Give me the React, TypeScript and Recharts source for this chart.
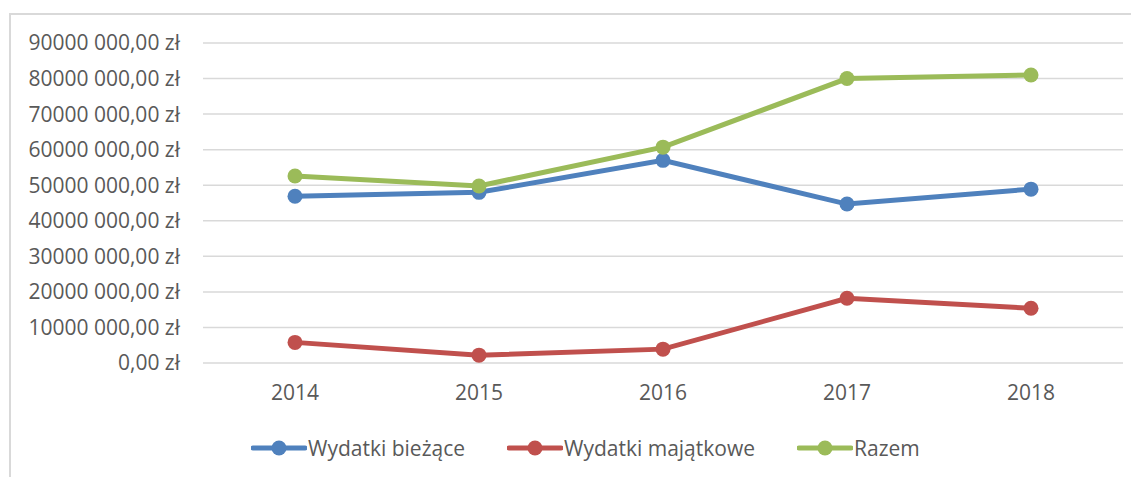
import React from "react";
import { LineChart, Line, XAxis, YAxis, CartesianGrid, Legend } from "recharts";

// Values in zł
const years = ["2014", "2015", "2016", "2017", "2018"];
const biezace = [46900000, 48000000, 57000000, 44700000, 48900000];
const majatkowe = [5800000, 2200000, 3900000, 18200000, 15400000];
const razem = [52600000, 49800000, 60700000, 80000000, 81000000];
const yTicks = [0, 10000000, 20000000, 30000000, 40000000, 50000000, 60000000, 70000000, 80000000, 90000000];

const seriesKeys = ["biezace", "majatkowe", "razem"];
const seriesNames = ["Wydatki bieżące", "Wydatki majątkowe", "Razem"];

const data = years.map((year, i) => ({
  year,
  biezace: biezace[i],
  majatkowe: majatkowe[i],
  razem: razem[i],
}));

// styling
const COLORS = ["#4F81BD", "#C0504D", "#9BBB59"];
const LEGEND_ITEM_W = [256, 290, 140];
const FONT = "'Open Sans', sans-serif";
const TEXT = "#595959";
const FS = 21;

const formatZl = (v: number) => {
  if (v === 0) return "0,00 zł";
  const th = Math.floor(v / 1000);
  const rest = String(v % 1000).padStart(3, "0");
  return `${th} ${rest},00 zł`;
};

function LegendContent() {
  return (
    <div style={{ display: "flex", alignItems: "center", height: 27, fontFamily: FONT, fontSize: FS, color: TEXT, whiteSpace: "nowrap" }}>
      {seriesNames.map((name, i) => (
        <div key={name} style={{ display: "flex", alignItems: "center", width: LEGEND_ITEM_W[i] }}>
          <svg width={56} height={18} style={{ marginRight: 1, flex: "none" }}>
            <line x1={2} y1={9} x2={54} y2={9} stroke={COLORS[i]} strokeWidth={5} strokeLinecap="round" />
            <circle cx={28} cy={9} r={7.5} fill={COLORS[i]} />
          </svg>
          <span>{name}</span>
        </div>
      ))}
    </div>
  );
}

export default function App() {
  return (
    <div style={{ position: "relative", width: 1131, height: 469, overflow: "hidden", background: "#fff" }}>
      <div
        style={{
          position: "absolute",
          left: 1,
          top: 5,
          width: 1200,
          height: 500,
          border: "2px solid #D9D9D9",
          boxSizing: "border-box",
        }}
      />
      <div style={{ position: "absolute", left: 0, top: 0 }}>
        <LineChart width={1131} height={469} data={data} margin={{ top: 35, right: 16, left: 0, bottom: 27 }}>
          <CartesianGrid horizontal vertical={false} stroke="#D9D9D9" strokeWidth={1.5} />
          <XAxis
            dataKey="year"
            padding={{ left: 92, right: 92 }}
            axisLine={false}
            tickLine={false}
            tickSize={0}
            tickMargin={22}
            height={60}
            tick={{ fill: TEXT, fontSize: FS, fontFamily: FONT }}
          />
          <YAxis
            domain={[0, 90000000]}
            ticks={yTicks}
            interval={0}
            width={195}
            axisLine={false}
            tickLine={false}
            tickSize={0}
            tickMargin={23}
            tickFormatter={formatZl}
            tick={{ fill: TEXT, fontSize: FS, fontFamily: FONT }}
          />
          <Legend
            verticalAlign="bottom"
            content={<LegendContent />}
            wrapperStyle={{ left: 243, bottom: 16, width: 720, height: 27 }}
          />
          {seriesKeys.map((key, i) => (
            <Line
              key={key}
              dataKey={key}
              name={seriesNames[i]}
              type="linear"
              stroke={COLORS[i]}
              strokeWidth={5}
              dot={{ r: 7.5, fill: COLORS[i], stroke: "none" }}
              activeDot={false}
              isAnimationActive={false}
            />
          ))}
        </LineChart>
      </div>
    </div>
  );
}
